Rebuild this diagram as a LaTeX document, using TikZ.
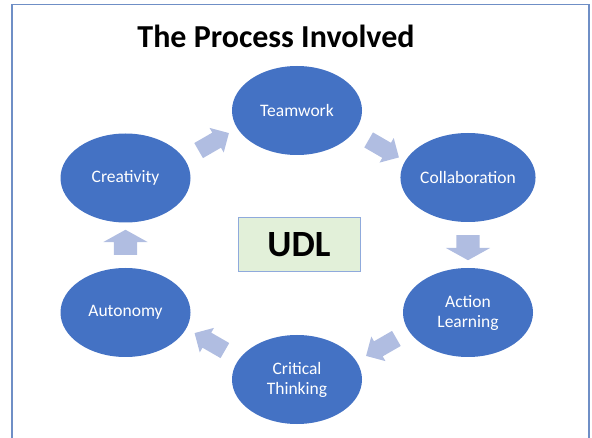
\documentclass[tikz,border=0pt]{standalone}
\usepackage{fontspec}
\setmainfont{Carlito}
\usetikzlibrary{shapes.geometric,shapes.arrows}
\definecolor{ellblue}{HTML}{4472C4}
\definecolor{arrblue}{HTML}{B0BDE1}
\definecolor{udlfill}{HTML}{E2F0D9}
\definecolor{udlborder}{HTML}{8FAADC}
\definecolor{framec}{HTML}{6F8FC6}
\begin{document}
\begin{tikzpicture}[x=1pt,y=-1pt,
  ell/.style={ellipse, fill=ellblue, minimum width=130pt, minimum height=89pt,
    inner sep=0pt, text=white, font=\fontsize{17.5}{20}\selectfont, align=center},
  diagarrow/.style={single arrow, fill=arrblue, inner xsep=0pt, inner ysep=8.5pt,
    single arrow head indent=0pt,
    minimum height=35pt, single arrow head extend=5.5pt},
  vertarrow/.style={single arrow, fill=arrblue, inner xsep=0pt, inner ysep=11.5pt,
    single arrow head indent=0pt,
    minimum height=25pt, single arrow head extend=10.5pt,
    single arrow tip angle=122}]
\useasboundingbox (0,0) rectangle (592,438);
\draw[framec, line width=1.2pt] (12,450) -- (12,4.5) -- (589,4.5) -- (589,450);
\node[font=\bfseries\fontsize{32}{38}\selectfont, anchor=base] (title) at (276,48) {The Process Involved};
\node[ell] (team) at (297,110.5) {Teamwork};
\node[ell] (collab) at (468,177.5) {Collaboration};
\node[ell] (action) at (468,312.5) {Action\\Learning};
\node[ell] (crit) at (297,379.5) {Critical\\Thinking};
\node[ell] (auto) at (125.5,312.5) {Autonomy};
\node[ell] (creat) at (125.5,178) {Creativity};
\node[draw=udlborder, fill=udlfill, line width=1pt, minimum width=122pt, minimum height=54pt,
  font=\bfseries\fontsize{37}{44}\selectfont] (udl) at (299,245) {UDL};
\node[diagarrow, rotate=30] (a1) at (210,144) {};
\node[diagarrow, rotate=-30] (a2) at (380,146.5) {};
\node[vertarrow, rotate=-90] (a3) at (468,244.5) {};
\node[diagarrow, rotate=210] (a4) at (385,345) {};
\node[diagarrow, rotate=150] (a5) at (213.5,344) {};
\node[vertarrow, rotate=90] (a6) at (125.5,245.5) {};
\end{tikzpicture}
\end{document}
